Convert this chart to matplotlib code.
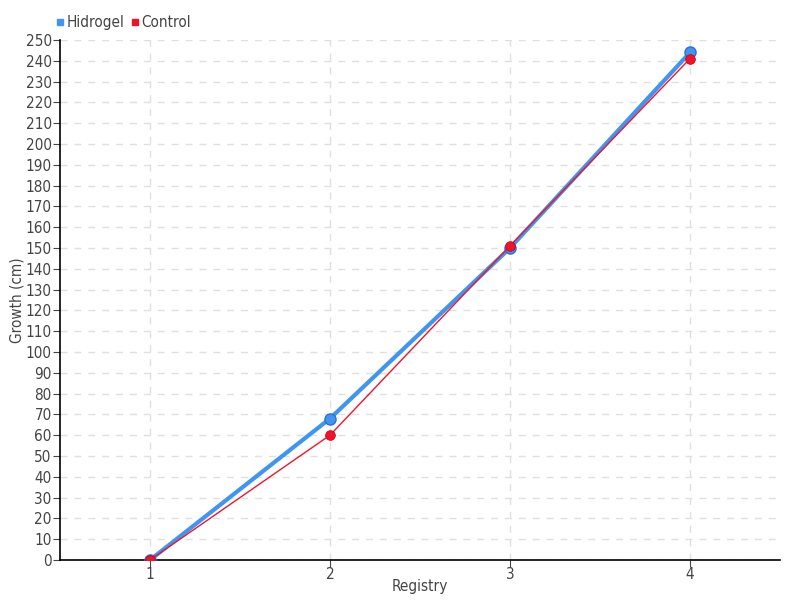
import matplotlib.pyplot as plt
from matplotlib.lines import Line2D

plt.rcParams['font.family'] = ['DejaVu Sans']
plt.rcParams['font.stretch'] = 'condensed'

registry = [1, 2, 3, 4]
hidrogel = [0, 68, 150, 244]
control = [0, 60, 151, 241]

fig = plt.figure(figsize=(8, 6), dpi=100)
ax = fig.add_axes([0.075, 0.0667, 0.9, 0.8667])

ax.plot(registry, hidrogel, color='#4095f0', lw=3, marker='o', ms=8,
        markeredgecolor='#2f6fd0', markeredgewidth=1, zorder=3)
ax.plot(registry, control, color='#f0142a', lw=1, marker='o', ms=7,
        markeredgecolor='#c00010', markeredgewidth=0.5, zorder=4)

ax.set_xlim(0.5, 4.5)
ax.set_ylim(0, 250)
ax.set_xticks(registry)
ax.set_yticks(range(0, 251, 10))
ax.grid(True, color='#e0e0e0', linestyle=(0, (5, 5)), lw=1)
ax.set_axisbelow(True)
for s in ['top', 'right']:
    ax.spines[s].set_visible(False)
ax.spines['left'].set_linewidth(1.2)
ax.spines['bottom'].set_linewidth(1.2)
ax.tick_params(axis='both', labelsize=11, colors='#444444', length=5)
ax.tick_params(axis='y', pad=1)
ax.tick_params(axis='x', pad=0)
ax.set_xlabel('Registry', fontsize=11, color='#444444', labelpad=-2)
ax.set_ylabel('Growth (cm)', fontsize=11, color='#444444', labelpad=1)

handles = [Line2D([], [], ls='none', marker='s', ms=4, color='#4095f0'),
           Line2D([], [], ls='none', marker='s', ms=4, color='#f0142a')]
fig.legend(handles, ['Hidrogel', 'Control'], loc='upper left',
           bbox_to_anchor=(0.053, 0.998), ncol=2, frameon=False, fontsize=11,
           handlelength=0.5, handletextpad=0.2, columnspacing=0.4,
           labelcolor='#444444')

fig.savefig('out.png')
